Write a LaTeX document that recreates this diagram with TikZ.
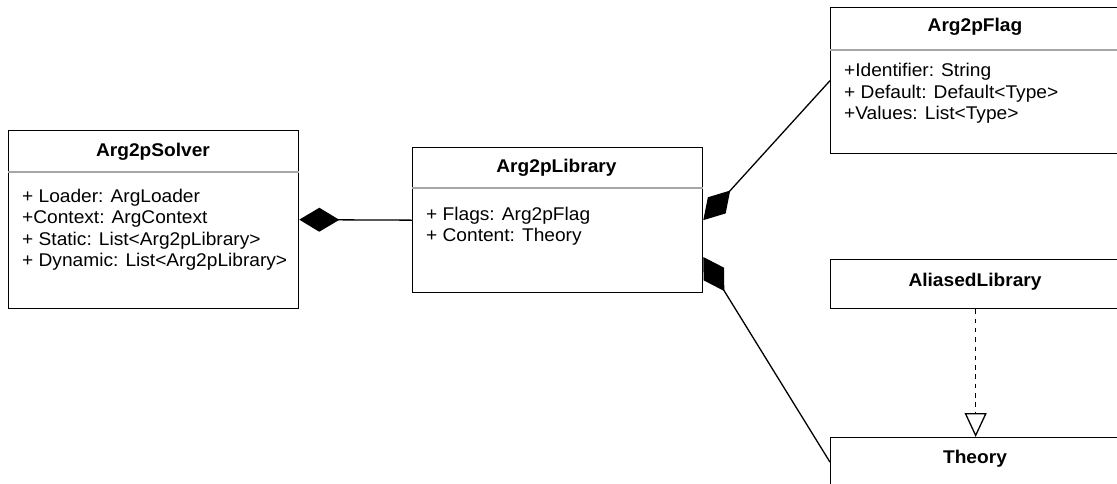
\documentclass[tikz,border=0pt]{standalone}
\usepackage{fontspec}
\setmainfont{Liberation Sans}[FakeStretch=1.04]
\usetikzlibrary{arrows.meta,calc}

\begin{document}
\begin{tikzpicture}[x=1pt,y=-1pt,
  classbox/.style={draw=black, line width=1.3pt, rectangle, inner sep=0pt,
    anchor=north west, fill=white, minimum width=290pt},
  divider/.style={draw=black!35, line width=1.3pt},
  title/.style={anchor=base, inner sep=0pt, font=\fontsize{18.4pt}{21pt}\selectfont\bfseries},
  attr/.style={anchor=base west, inner sep=0pt, font=\fontsize{18.4pt}{21pt}\selectfont},
  link/.style={draw=black, line width=1.3pt},
  composite/.style={{Diamond[length=40pt,width=24pt]}-},
  realize/.style={dash pattern=on 4.5pt off 4.8pt,
    -{Triangle[open,length=24pt,width=22pt,fill=white]}}
]
\useasboundingbox (0,0) rectangle (1117,483);
\clip (0,0) rectangle (1117,483);

% class boxes
\node[classbox, minimum height=178pt] (solver)  at (8,130) {};
\node[classbox, minimum height=145pt] (library) at (412,147) {};
\node[classbox, minimum height=146pt] (flag)    at (830,7) {};
\node[classbox, minimum height=49pt]  (aliased) at (830,259) {};
\node[classbox, minimum height=49pt]  (theory)  at (830,437) {};

% header dividers
\draw[divider] (solver.west |- 0,172) -- (solver.east |- 0,172);
\draw[divider] (library.west |- 0,188) -- (library.east |- 0,188);
\draw[divider] (flag.west |- 0,50) -- (flag.east |- 0,50);

% Arg2pSolver
\node[title] (solverT) at (153,156.5) {Arg2pSolver};
\node[attr] (solverA1) at (22,202) {+ Loader: ArgLoader};
\node[attr] (solverA2) at (22,223.5) {+Context: ArgContext};
\node[attr] (solverA3) at (22,245) {+ Static: List<Arg2pLibrary>};
\node[attr] (solverA4) at (22,266.5) {+ Dynamic: List<Arg2pLibrary>};

% Arg2pLibrary
\node[title] (libraryT) at (556.5,172.5) {Arg2pLibrary};
\node[attr] (libraryA1) at (426,220) {+ Flags: Arg2pFlag};
\node[attr] (libraryA2) at (426,241) {+ Content: Theory};

% Arg2pFlag
\node[title] (flagT) at (975,31) {Arg2pFlag};
\node[attr] (flagA1) at (844,76.5) {+Identifier: String};
\node[attr] (flagA2) at (844,98) {+ Default: Default<Type>};
\node[attr] (flagA3) at (844,119.5) {+Values: List<Type>};

% AliasedLibrary and Theory
\node[title] (aliasedT) at (975,286) {AliasedLibrary};
\node[title] (theoryT) at (975,463) {Theory};

% relations
\coordinate (libtheory) at ($(library.north east)+(0,110)$);
\draw[link, composite] (solver.east) -- (library.west);
\draw[link, composite] (library.east) -- (flag.west);
\draw[link, composite] (libtheory) -- (theory.west);
\draw[link, realize] (aliased.south) -- (theory.north);
\end{tikzpicture}
\end{document}
